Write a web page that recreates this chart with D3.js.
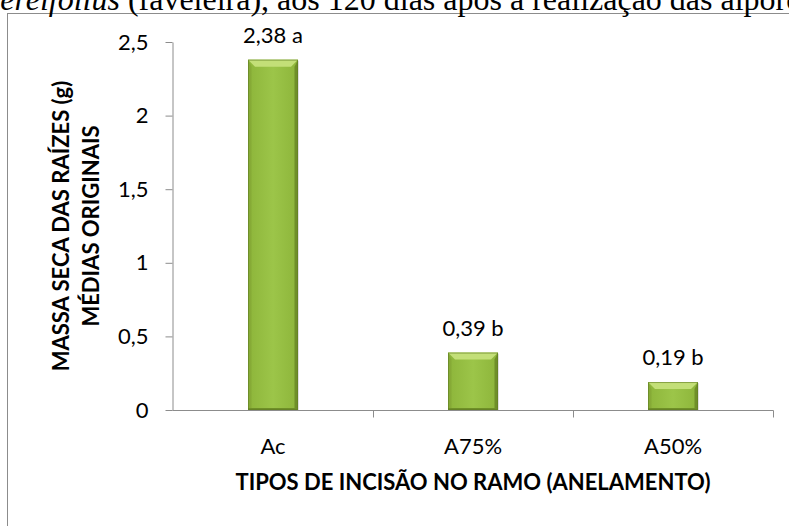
<!DOCTYPE html>
<html><head><meta charset="utf-8">
<script src="https://cdn.jsdelivr.net/npm/d3@7"></script>
<style>body{margin:0;background:#fff}svg{display:block}</style>
</head><body>
<svg id="c" width="789" height="526"></svg>
<script>
const categories = ["Ac", "A75%", "A50%"];
const values = [2.38, 0.39, 0.19];
const labels = ["2,38 a", "0,39 b", "0,19 b"];
const yTicks = [0, 0.5, 1, 1.5, 2, 2.5];
const yTickLabels = ["0", "0,5", "1", "1,5", "2", "2,5"];

const svg = d3.select("#c");
const font = "Lato, 'Open Sans', sans-serif";
const fs = 22;

// chart frame
svg.append("rect").attr("x", 7.5).attr("y", 13.5).attr("width", 800).attr("height", 600)
  .attr("fill", "none").attr("stroke", "#8c8c8c").attr("stroke-width", 1);

// caption fragment at top (cut off in the reference)
const cap = svg.append("text").attr("x", -14).attr("y", 10)
  .attr("font-family", "'Liberation Serif', 'Times New Roman', serif")
  .attr("font-size", 32).attr("fill", "#000");
cap.append("tspan").attr("font-style", "italic").text("cereifolius");
cap.append("tspan").text(" (faveleira), aos 120 dias após a realização das alporquias");

const x = d3.scaleBand().domain(categories).range([173, 773]).paddingInner(0).paddingOuter(0);
const y = d3.scaleLinear().domain([0, 2.5]).range([410, 42]);

const defs = svg.append("defs");
const g1 = defs.append("linearGradient").attr("id", "face").attr("x1", 0).attr("x2", 1).attr("y1", 0).attr("y2", 0);
g1.append("stop").attr("offset", 0).attr("stop-color", "#8db53a");
g1.append("stop").attr("offset", 0.5).attr("stop-color", "#9cc549");
g1.append("stop").attr("offset", 1).attr("stop-color", "#8db53a");

// y axis
const yAxis = svg.append("g").attr("transform", "translate(172.5,0)")
  .call(d3.axisLeft(y).tickValues(yTicks).tickFormat((d, i) => yTickLabels[i]).tickSize(7).tickSizeOuter(0).tickPadding(17));
yAxis.select(".domain").attr("stroke", "#8c8c8c");
yAxis.selectAll(".tick line").attr("stroke", "#8c8c8c");
yAxis.selectAll(".tick text").attr("font-family", font).attr("font-size", fs).attr("fill", "#000");

// bars
const bw = 50;
const bars = svg.append("g");
categories.forEach((c, i) => {
  const cx = x(c) + x.bandwidth() / 2;
  const x0 = cx - bw / 2, x1 = cx + bw / 2;
  const yt = y(values[i]), yb = y(0);
  const bv = Math.min(7, (yb - yt) / 3);
  const gg = bars.append("g");
  gg.append("rect").attr("x", x0 + 1).attr("y", yt + 1).attr("width", bw).attr("height", yb - yt)
    .attr("fill", "#000").attr("opacity", 0.12);
  gg.append("rect").attr("x", x0).attr("y", yt).attr("width", bw).attr("height", yb - yt).attr("fill", "url(#face)");
  gg.append("polygon").attr("points", [[x0, yt], [x1, yt], [x1 - bv, yt + bv], [x0 + bv, yt + bv]].join(" "))
    .attr("fill", "#c3df78");
  gg.append("polygon").attr("points", [[x0, yt], [x0 + bv * 0.5, yt + bv], [x0 + bv * 0.5, yb - 2], [x0, yb]].join(" "))
    .attr("fill", "#86aa36");
  gg.append("polygon").attr("points", [[x1, yt], [x1 - bv * 0.5, yt + bv], [x1 - bv * 0.5, yb - 2], [x1, yb]].join(" "))
    .attr("fill", "#6f8f28");
  gg.append("rect").attr("x", x0).attr("y", yb - 2).attr("width", bw).attr("height", 2).attr("fill", "#6f8f28");
  gg.append("rect").attr("x", x0 + 0.5).attr("y", yt + 0.5).attr("width", bw - 1).attr("height", yb - yt - 1)
    .attr("fill", "none").attr("stroke", "#5f7c22").attr("stroke-width", 1).attr("opacity", 0.6);
  svg.append("text").attr("x", cx).attr("y", yt - 17).attr("text-anchor", "middle")
    .attr("font-family", font).attr("font-size", fs).attr("fill", "#000").text(labels[i]);
});

// x axis
const xAxis = svg.append("g").attr("transform", "translate(0,410.5)")
  .call(d3.axisBottom(x).tickSize(0).tickPadding(0));
xAxis.select(".domain").attr("stroke", "#8c8c8c").attr("d", "M172.5,0H773.5");
xAxis.selectAll(".tick text").attr("font-family", font).attr("font-size", fs).attr("fill", "#000")
  .attr("dy", null).attr("y", 43);
const bounds = categories.map(c => x(c) + x.bandwidth());
xAxis.selectAll(".btick").data(bounds).enter().append("line")
  .attr("x1", d => Math.round(d) + 0.5).attr("x2", d => Math.round(d) + 0.5).attr("y1", 0).attr("y2", 7)
  .attr("stroke", "#8c8c8c");

// axis titles
svg.append("text").attr("x", 473).attr("y", 490).attr("text-anchor", "middle")
  .attr("font-family", font).attr("font-weight", "bold").attr("font-size", fs).attr("fill", "#000")
  .text("TIPOS DE INCISÃO NO RAMO (ANELAMENTO)");
const ytl = svg.append("text").attr("transform", "translate(69,226) rotate(-90)").attr("text-anchor", "middle")
  .attr("font-family", font).attr("font-weight", "bold").attr("font-size", fs).attr("fill", "#000");
ytl.append("tspan").attr("x", 0).attr("y", 0).text("MASSA SECA DAS RAÍZES (g)");
ytl.append("tspan").attr("x", 0).attr("y", 30).text("MÉDIAS ORIGINAIS");
</script>
</body></html>
